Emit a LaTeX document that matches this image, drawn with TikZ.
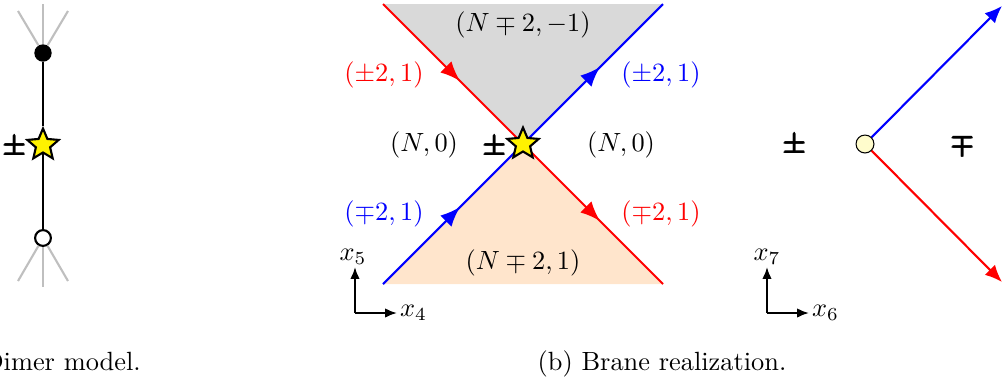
\documentclass[tikz,border=0pt]{standalone}
\usepackage{amsmath}
\usetikzlibrary{arrows.meta,shapes.geometric,decorations.markings}

\begin{document}
\begin{tikzpicture}[
    x=0.01333cm, y=-0.01333cm,
    brane/.style={thick},
    midarrow/.style={postaction={decorate},
      decoration={markings, mark=at position 0.55 with {\arrow{Latex[length=7.5pt,width=6pt]}}}},
    leg/.style={gray!50, thick},
    starnode/.style={star, star points=5, star point ratio=2.2, minimum size=12.5pt, inner sep=0pt, draw, thick, fill=yellow},
    sign/.style={font=\boldmath, inner sep=0pt},
    axis/.style={-{Latex[length=4.5pt,width=3.6pt]}, thick},
    dot/.style={circle, inner sep=0pt, minimum size=6.6pt},
  ]
  \useasboundingbox (0,0) rectangle (1003,381);

  % ===== (a) dimer model =====
  \coordinate (a-t)  at (43,4);
  \coordinate (a-tl) at (18,11);
  \coordinate (a-tr) at (68,11);
  \coordinate (a-b)  at (43,287);
  \coordinate (a-bl) at (18,281);
  \coordinate (a-br) at (68,281);
  \node[dot, fill=black] (blk) at (43,53) {};
  \node[dot, draw, thick, fill=white, minimum size=6pt] (wht) at (43,238) {};
  \node[starnode] (a-star) at (43,145) {};
  \node[sign] (a-sign) at (15,147) {$\pmb{\pm}$};

  \draw[leg] (blk) -- (a-t);
  \draw[leg] (blk) -- (a-tl);
  \draw[leg] (blk) -- (a-tr);
  \draw[leg] (wht) -- (a-b);
  \draw[leg] (wht) -- (a-bl);
  \draw[leg] (wht) -- (a-br);
  \draw[thick] (blk) -- (a-star);
  \draw[thick] (a-star) -- (wht);

  \node[anchor=east] (a-cap) at (150,364) {(a) Dimer model.};

  % ===== (b) brane realization =====
  \coordinate (tl) at (383,4);
  \coordinate (tr) at (663,4);
  \coordinate (bl) at (383,284);
  \coordinate (br) at (663,284);
  \coordinate (c)  at (523,144);

  \fill[gray!30]   (tl) -- (tr) -- (c) -- cycle;
  \fill[orange!20] (bl) -- (br) -- (c) -- cycle;

  \draw[brane, red, midarrow]  (tl) -- (c);
  \draw[brane, red, midarrow]  (c) -- (br);
  \draw[brane, blue, midarrow] (bl) -- (c);
  \draw[brane, blue, midarrow] (c) -- (tr);

  \node[starnode] (b-star) at (c) {};
  \node[sign] (b-sign) at (495,147) {$\pmb{\pm}$};

  \node (up)    at (523,25)  {$(N\mp2,-1)$};
  \node (down)  at (523,263) {$(N\mp2,1)$};
  \node (left)  at (424,145) {$(N,0)$};
  \node (right) at (621,145) {$(N,0)$};
  \node[red]  (ul) at (384,75)  {$(\pm2,1)$};
  \node[blue] (ur) at (661,75)  {$(\pm2,1)$};
  \node[blue] (ll) at (384,214) {$(\mp2,1)$};
  \node[red]  (lr) at (661,214) {$(\mp2,1)$};

  \coordinate (o45) at (355,313);
  \coordinate (e5)  at (355,267);
  \coordinate (e4)  at (397,313);
  \draw[axis] (o45) -- (e5);
  \draw[axis] (o45) -- (e4);
  \node (x5) at (353,257) {$x_5$};
  \node[anchor=west, inner sep=1pt] (x4) at (397,313) {$x_4$};

  \node (b-cap) at (662,364) {(b) Brane realization.};

  % ===== (c) =====
  \node[circle, draw, fill=yellow!20, inner sep=0pt, minimum size=6.8pt] (jn) at (865,144) {};
  \coordinate (c-up) at (1002,6);
  \coordinate (c-dn) at (1002,282);
  \draw[brane, blue, -{Latex[length=6.5pt,width=5.5pt]}] (jn) -- (c-up);
  \draw[brane, red,  -{Latex[length=6.5pt,width=5.5pt]}] (jn) -- (c-dn);
  \node[sign] (c-l) at (795,145) {$\pmb{\pm}$};
  \node[sign] (c-r) at (963,144) {$\pmb{\mp}$};

  \coordinate (o67) at (767,313);
  \coordinate (e7)  at (767,267);
  \coordinate (e6)  at (809,313);
  \draw[axis] (o67) -- (e7);
  \draw[axis] (o67) -- (e6);
  \node (x7) at (767,257) {$x_7$};
  \node[anchor=west, inner sep=1pt] (x6) at (809,313) {$x_6$};
\end{tikzpicture}
\end{document}
